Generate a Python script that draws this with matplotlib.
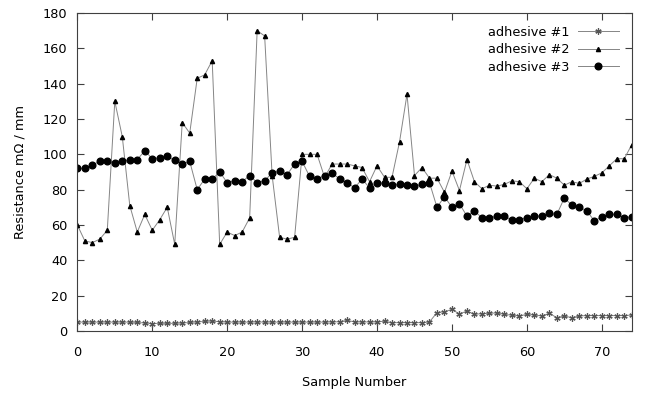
import matplotlib
matplotlib.use('Agg')
import matplotlib.pyplot as plt
import numpy as np

# values, sample 0..74
adhesive1 = [5, 5, 5, 5, 5, 5, 5, 5, 4.8, 4.5,
             4.2, 4.3, 4.3, 4.3, 4.5, 4.8, 5.1, 5.4, 5.6, 5.2,
             5, 5, 5, 5, 5.1, 5, 5, 5, 5, 5,
             5, 5, 5, 5, 5.1, 5.2, 6.0, 5.1, 5.1, 5.1,
             5.1, 5.5, 4.7, 4.7, 4.7, 4.7, 4.7, 5.1, 10.4, 10.9,
             12.2, 9.6, 11.3, 9.4, 9.8, 10, 10.2, 9.4, 8.9, 8.5,
             9.4, 9, 8.5, 10, 7.5, 8.5, 7.5, 8.5, 8.7, 8.7,
             8.7, 8.7, 8.7, 8.7, 9]
adhesive2 = [60, 51, 50, 52, 57, 130, 110, 71, 56, 66,
             57, 63, 70, 49, 118, 112, 143, 145, 153, 49,
             56, 54, 56, 64, 170, 167, 88, 53, 52, 53,
             100, 100, 100, 87, 94.5, 94.5, 94.5, 93.5, 92.5, 84.5,
             93.5, 87, 87, 107, 134, 88, 92.5, 86.5, 86.5, 78.5,
             90.5, 79.5, 97, 84.5, 80.5, 82.5, 82, 83, 85, 84.5,
             80.5, 86.5, 84.5, 88.5, 86.5, 82.5, 84.5, 83.5, 86, 87.5,
             89.5, 93.5, 97.5, 97.5, 105.5]
adhesive3 = [92, 92, 94, 96, 96, 95, 96, 97, 97, 102,
             97.5, 98, 99, 96.5, 94.5, 96, 80, 86, 86, 90,
             84, 85, 84.5, 88, 84, 85, 89.5, 90.5, 88.5, 94.5,
             96, 87.5, 86, 88, 89.5, 86, 84, 81, 86, 81,
             84, 83.5, 82.5, 83, 82.5, 82, 83, 84, 70, 76,
             70, 72, 65, 68, 64, 64, 65, 65, 62.7, 63,
             64.2, 65, 65, 66.5, 66, 75.3, 71.2, 70, 68, 62.3,
             64.6, 66, 66, 64.2, 64.6]
labels = ['adhesive #1', 'adhesive #2', 'adhesive #3']

x = np.arange(len(adhesive1))

plt.rcParams['font.family'] = ['DejaVu Sans']
plt.rcParams['font.size'] = 9.3

fig = plt.figure(figsize=(6.46, 3.94), dpi=100)
ax = fig.add_axes([0.1197, 0.160, 0.8583, 0.807])

line_col = '#858585'
ax.plot(x, adhesive1, color=line_col, lw=0.7, marker=(6, 2, 0), ms=4.5,
        mec='#555555', mew=0.9, label=labels[0])
ax.plot(x, adhesive2, color=line_col, lw=0.7, marker='^', ms=3.0,
        mfc='black', mec='black', label=labels[1])
ax.plot(x, adhesive3, color=line_col, lw=0.7, marker='o', ms=4.8,
        mfc='black', mec='black', label=labels[2])

ax.set_xlim(0, 74)
ax.set_ylim(0, 180)
ax.set_xticks(np.arange(0, 71, 10))
ax.set_yticks(np.arange(0, 181, 20))
ax.tick_params(direction='in', top=True, right=True, length=5, width=0.8,
               color='#404040', labelsize=9.3)
ax.tick_params(axis='x', pad=11)
ax.tick_params(axis='y', pad=7)
for s in ax.spines.values():
    s.set_color('#404040')
    s.set_linewidth(0.8)

ax.set_xlabel('Sample Number', labelpad=12)
ax.set_ylabel('Resistance mΩ / mm', labelpad=12)

ax.legend(loc='upper right', frameon=False, markerfirst=False,
          handlelength=3.2, handletextpad=0.6, labelspacing=0.35,
          borderaxespad=0.6, fontsize=9.3)

fig.savefig('out.png', dpi=100)
